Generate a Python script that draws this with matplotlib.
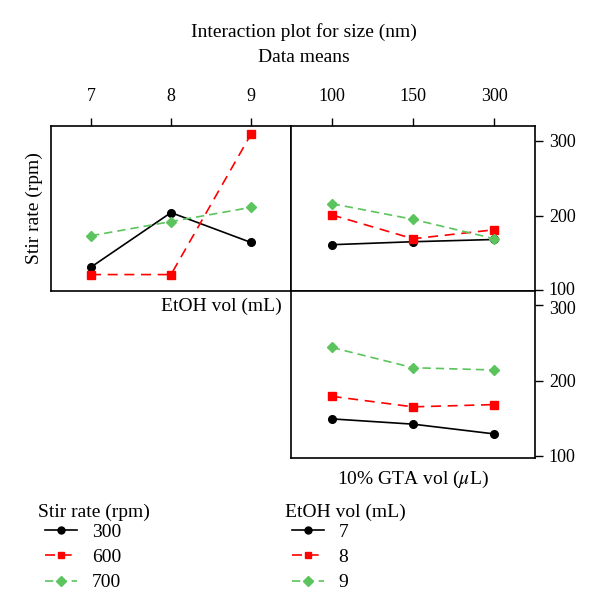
import numpy as np
import matplotlib.pyplot as plt
import matplotlib.transforms as mtransforms

plt.rcParams['font.family'] = ['Liberation Serif', 'DejaVu Serif']
plt.rcParams['mathtext.fontset'] = 'stix'

# factor levels
etoh_levels = ["7", "8", "9"]
gta_levels = ["100", "150", "300"]
stir_levels = ["300", "600", "700"]

# size means: Stir rate lines vs EtOH vol
stir_by_etoh = {
    "300": [131, 204, 164],
    "600": [121, 121, 309],
    "700": [173, 192, 211],
}
# Stir rate lines vs GTA vol
stir_by_gta = {
    "300": [161, 165, 168],
    "600": [201, 169, 181],
    "700": [216, 195, 169],
}
# EtOH vol lines vs GTA vol
etoh_by_gta = {
    "7": [149, 142, 129],
    "8": [179, 165, 168],
    "9": [244, 217, 214],
}

styles = [
    dict(color="black", linestyle="-", marker="o", markersize=5.5),
    dict(color="#ff0000", linestyle=(0, (6, 4)), marker="s", markersize=5.5),
    dict(color="#5cc45c", linestyle=(0, (5, 3)), marker="D", markersize=5.5),
]

fs = 14
W, H = 600, 613

fig = plt.figure(figsize=(6, 6.13), dpi=100)

# panels (pixel boxes converted to figure fractions)
def box(x0, y0, x1, y1):
    return [x0 / W, 1 - y1 / H, (x1 - x0) / W, (y1 - y0) / H]

ax1 = fig.add_axes(box(51, 126, 291, 291))
ax2 = fig.add_axes(box(291, 126, 535, 291))
ax3 = fig.add_axes(box(291, 291, 535, 458))

x = np.arange(3)

h_stir = []
for i, k in enumerate(stir_levels):
    l, = ax1.plot(x, stir_by_etoh[k], lw=1.2, label=k, **styles[i])
    h_stir.append(l)
    ax2.plot(x, stir_by_gta[k], lw=1.2, **styles[i])

h_etoh = []
for i, k in enumerate(etoh_levels):
    l, = ax3.plot(x, etoh_by_gta[k], lw=1.2, label=k, **styles[i])
    h_etoh.append(l)

for ax in (ax1, ax2, ax3):
    ax.set_xlim(-0.5, 2.5)
    for s in ax.spines.values():
        s.set_linewidth(1.2)

ax1.set_ylim(99, 320)
ax2.set_ylim(99, 320)
ax3.set_ylim(97, 319)

# top ticks on top row
for ax, labs in ((ax1, etoh_levels), (ax2, gta_levels)):
    ax.set_xticks(x)
    ax.set_xticklabels(labs, fontsize=13)
    ax.xaxis.tick_top()
    ax.tick_params(axis="x", direction="out", length=6, width=1, pad=9)
ax3.set_xticks([])

ax1.set_yticks([])
for ax in (ax2, ax3):
    ax.yaxis.tick_right()
    ax.set_yticks([100, 200, 300])
    ax.tick_params(axis="y", direction="out", length=6, width=1, labelsize=13, pad=4)

# nudge the touching 100 / 300 labels apart a little
for lab, dy in ((ax2.get_yticklabels()[0], 1.5), (ax3.get_yticklabels()[-1], -1.5)):
    off = mtransforms.ScaledTranslation(0, dy / 72, fig.dpi_scale_trans)
    lab.set_transform(lab.get_transform() + off)

ax1.set_ylabel("Stir rate (rpm)", fontsize=fs, labelpad=6)
ax1.text(0.96, -0.04, "EtOH vol (mL)", transform=ax1.transAxes,
         ha="right", va="top", fontsize=fs)
ax3.set_xlabel("10% GTA vol ($\\mu$L)", fontsize=fs, labelpad=8)

fig.text(304 / W, 1 - 32 / H, "Interaction plot for size (nm)", ha="center", va="center", fontsize=fs)
fig.text(304 / W, 1 - 58 / H, "Data means", ha="center", va="center", fontsize=fs)

# legends: title as text, entries indented below
leg_kw = dict(loc="upper left", frameon=False, fontsize=fs,
              handlelength=1.65, labelspacing=0.4,
              handletextpad=0.75, borderpad=0, borderaxespad=0)
fig.text(38 / W, 1 - 512 / H, "Stir rate (rpm)", ha="left", va="center", fontsize=fs)
fig.legend(handles=h_stir, bbox_to_anchor=(45 / W, 1 - 523 / H), **leg_kw)
fig.text(285 / W, 1 - 512 / H, "EtOH vol (mL)", ha="left", va="center", fontsize=fs)
fig.legend(handles=h_etoh, bbox_to_anchor=(292 / W, 1 - 523 / H), **leg_kw)

for leg in fig.legends:
    for h in leg.legend_handles:
        h.set_markersize(5)

fig.savefig("out.png", dpi=100)
